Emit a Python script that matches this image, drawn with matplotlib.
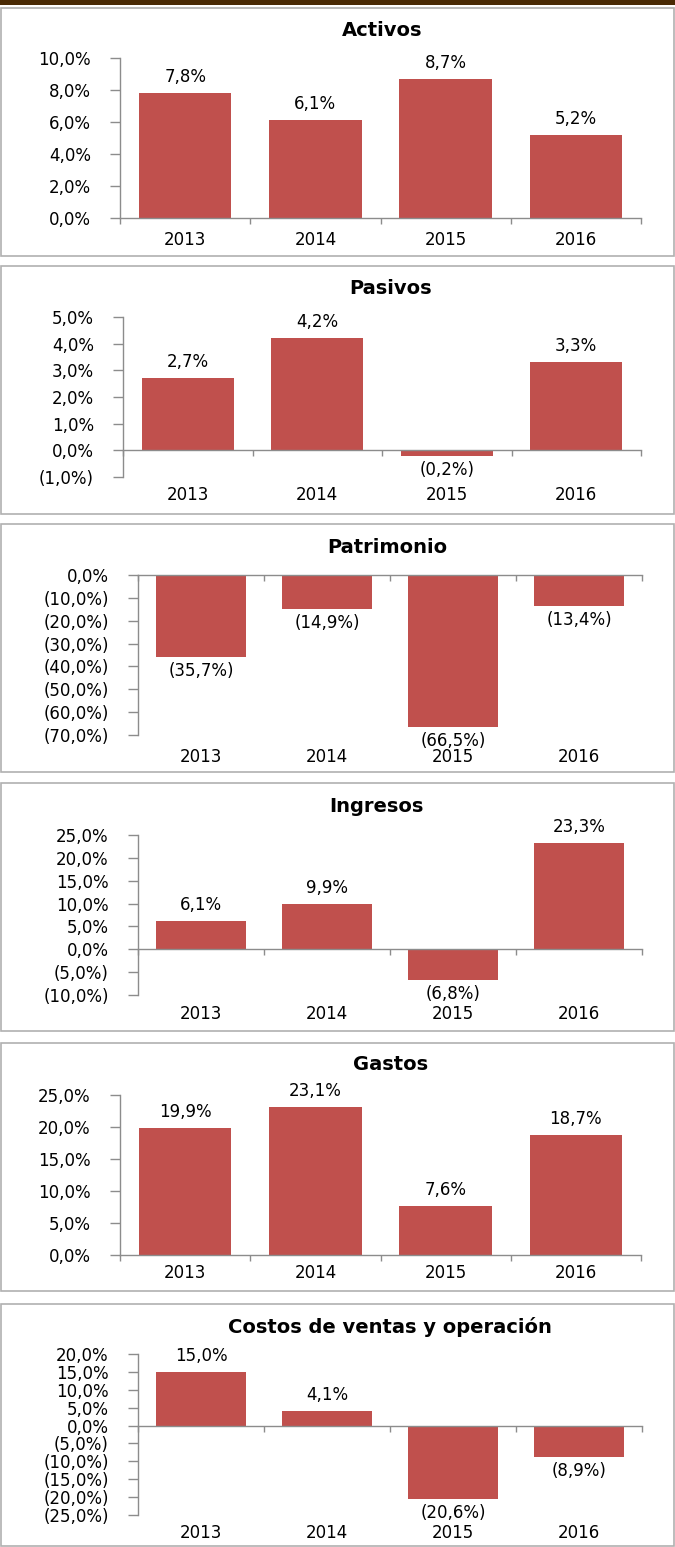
import matplotlib
matplotlib.use('Agg')
import matplotlib.pyplot as plt
from matplotlib.patches import Rectangle
import numpy as np

# ---- data ----
years = ['2013', '2014', '2015', '2016']
titles = ['Activos', 'Pasivos', 'Patrimonio', 'Ingresos', 'Gastos',
          'Costos de ventas y operación']
activos = [7.8, 6.1, 8.7, 5.2]
pasivos = [2.7, 4.2, -0.2, 3.3]
patrimonio = [-35.7, -14.9, -66.5, -13.4]
ingresos = [6.1, 9.9, -6.8, 23.3]
gastos = [19.9, 23.1, 7.6, 18.7]
costos = [15.0, 4.1, -20.6, -8.9]
series = [activos, pasivos, patrimonio, ingresos, gastos, costos]

# y-axis ranges (min, max, step)
yranges = [(0, 10, 2), (-1, 5, 1), (-70, 0, 10), (-10, 25, 5), (0, 25, 5), (-25, 20, 5)]

# ---- layout (pixels) ----
W, H = 675, 1547
box_tops = [8, 266, 524, 783, 1043, 1304]
box_h = 248
title_y = [30, 289, 547, 807, 1065, 1327]
title_x = [382, 391, 387, 376, 391, 390]
# left, right, top, bottom of plot area
axes_px = [(120, 641, 58, 218), (123, 641, 317, 477), (138, 642, 575, 735),
           (138, 642, 835, 995), (120, 641, 1095, 1255), (138, 642, 1354, 1515)]
year_off = [22, 18, 22, 19, 18, 18]

BAR = '#C0504D'
AX = '#8c8c8c'
FS = 12

def fmt(v):
    s = f"{abs(v):.1f}".replace('.', ',')
    return f"({s}%)" if v < -1e-9 else f"{s}%"

fig = plt.figure(figsize=(W / 100, H / 100), dpi=100)
fig.patch.set_facecolor('white')

# top dark band
fig.patches.append(Rectangle((0, 1 - 5 / H), 1, 5 / H, transform=fig.transFigure,
                             facecolor='#4a2a04', edgecolor='none'))

for i in range(6):
    bt = box_tops[i]
    bh = box_h if i < 5 else (H - 1 - bt)
    fig.patches.append(Rectangle((0.5 / W, 1 - (bt + bh) / H), (W - 2) / W, bh / H,
                                 transform=fig.transFigure, facecolor='none',
                                 edgecolor='#b0b0b0', linewidth=1.2))
    fig.text(title_x[i] / W, 1 - title_y[i] / H, titles[i], ha='center', va='center',
             fontsize=14, fontweight='bold', family='DejaVu Sans')

    l, r, t, b = axes_px[i]
    ax = fig.add_axes([l / W, 1 - b / H, (r - l) / W, (b - t) / H])
    ymin, ymax, step = yranges[i]
    vals = series[i]
    x = np.arange(len(years))
    ax.bar(x, vals, width=0.71, color=BAR, zorder=2)
    ax.set_xlim(-0.5, 3.5)
    ax.set_ylim(ymin, ymax)
    ticks = np.arange(ymin, ymax + step / 2, step)
    ax.set_yticks(ticks)
    ax.set_yticklabels([fmt(v) for v in ticks])
    ax.set_xticks(np.arange(-0.5, 4, 1))
    ax.set_xticklabels([])
    for s in ['top', 'right']:
        ax.spines[s].set_visible(False)
    ax.spines['left'].set_color(AX)
    ax.spines['bottom'].set_color(AX)
    ax.spines['bottom'].set_position(('data', 0))
    ax.spines['left'].set_linewidth(1.0)
    ax.spines['bottom'].set_linewidth(1.0)
    ax.tick_params(axis='y', direction='out', length=7, width=1, color=AX,
                   labelsize=FS, pad=14, labelcolor='black')
    ax.tick_params(axis='x', direction='out', length=4, width=1, color=AX)
    ax.set_facecolor('none')
    for xi, v in zip(x, vals):
        off = 16 if v >= 0 else -14
        ax.annotate(fmt(v), xy=(xi, v), xytext=(0, off), textcoords='offset pixels',
                    ha='center', va='center', fontsize=FS)
    for xi, yr in zip(x, years):
        ax.annotate(yr, xy=(xi, 0), xycoords=('data', 'axes fraction'),
                    xytext=(0, -year_off[i]), textcoords='offset pixels',
                    ha='center', va='center', fontsize=FS)

fig.savefig('out.png', dpi=100, facecolor='white')
